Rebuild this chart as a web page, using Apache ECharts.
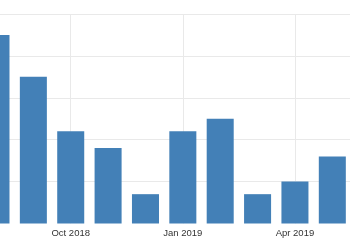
<!DOCTYPE html>
<html>
<head>
<meta charset="utf-8">
<script src="https://cdn.jsdelivr.net/npm/echarts@6/dist/echarts.min.js"></script>
<style>
html,body{margin:0;padding:0;background:#fff}
#wrap{position:relative;width:350px;height:250px;overflow:hidden}
#c{position:absolute;left:-23px;top:0;width:374px;height:250px}
</style>
</head>
<body>
<div id="wrap"><div id="c"></div></div>
<script>
const categories = ['Aug 2018','Sep 2018','Oct 2018','Nov 2018','Dec 2018','Jan 2019','Feb 2019','Mar 2019','Apr 2019','May 2019'];
const values = [45, 35, 22, 18, 7, 22, 25, 7, 10, 16];
const labeledCategories = ['Oct 2018','Jan 2019','Apr 2019'];

const chart = echarts.init(document.getElementById('c'), null, {renderer:'canvas'});
chart.setOption({
  animation: false,
  backgroundColor: '#fff',
  grid: {left: 0.3, right: 0, top: 14, bottom: 26.5, containLabel: false},
  xAxis: {
    type: 'category',
    data: categories,
    axisLine: {show: false},
    axisTick: {show: false},
    splitLine: {show: false},
    axisLabel: {
      interval: (i, v) => labeledCategories.includes(v),
      color: '#333',
      fontSize: 9.5,
      fontFamily: 'Liberation Sans, Arial, sans-serif',
      margin: 5
    }
  },
  yAxis: {
    type: 'value',
    min: 0, max: 50, interval: 10,
    axisLine: {show: false},
    axisTick: {show: false},
    axisLabel: {show: false},
    splitLine: {lineStyle: {color: ['transparent','#e9e9e9','#e9e9e9','#e9e9e9','#e9e9e9','#e9e9e9'], width: 1}}
  },
  series: [
    {
      type: 'line',
      data: [],
      z: 0,
      silent: true,
      markLine: {
        silent: true,
        z: 0,
        symbol: 'none',
        label: {show: false},
        lineStyle: {color: '#e9e9e9', type: 'solid', width: 1},
        data: labeledCategories.map(c => ({xAxis: c}))
      }
    },
    {
      type: 'bar',
      data: values,
      z: 2,
      barCategoryGap: '27.7%',
      itemStyle: {color: '#4380b7'}
    }
  ]
});
</script>
</body>
</html>
